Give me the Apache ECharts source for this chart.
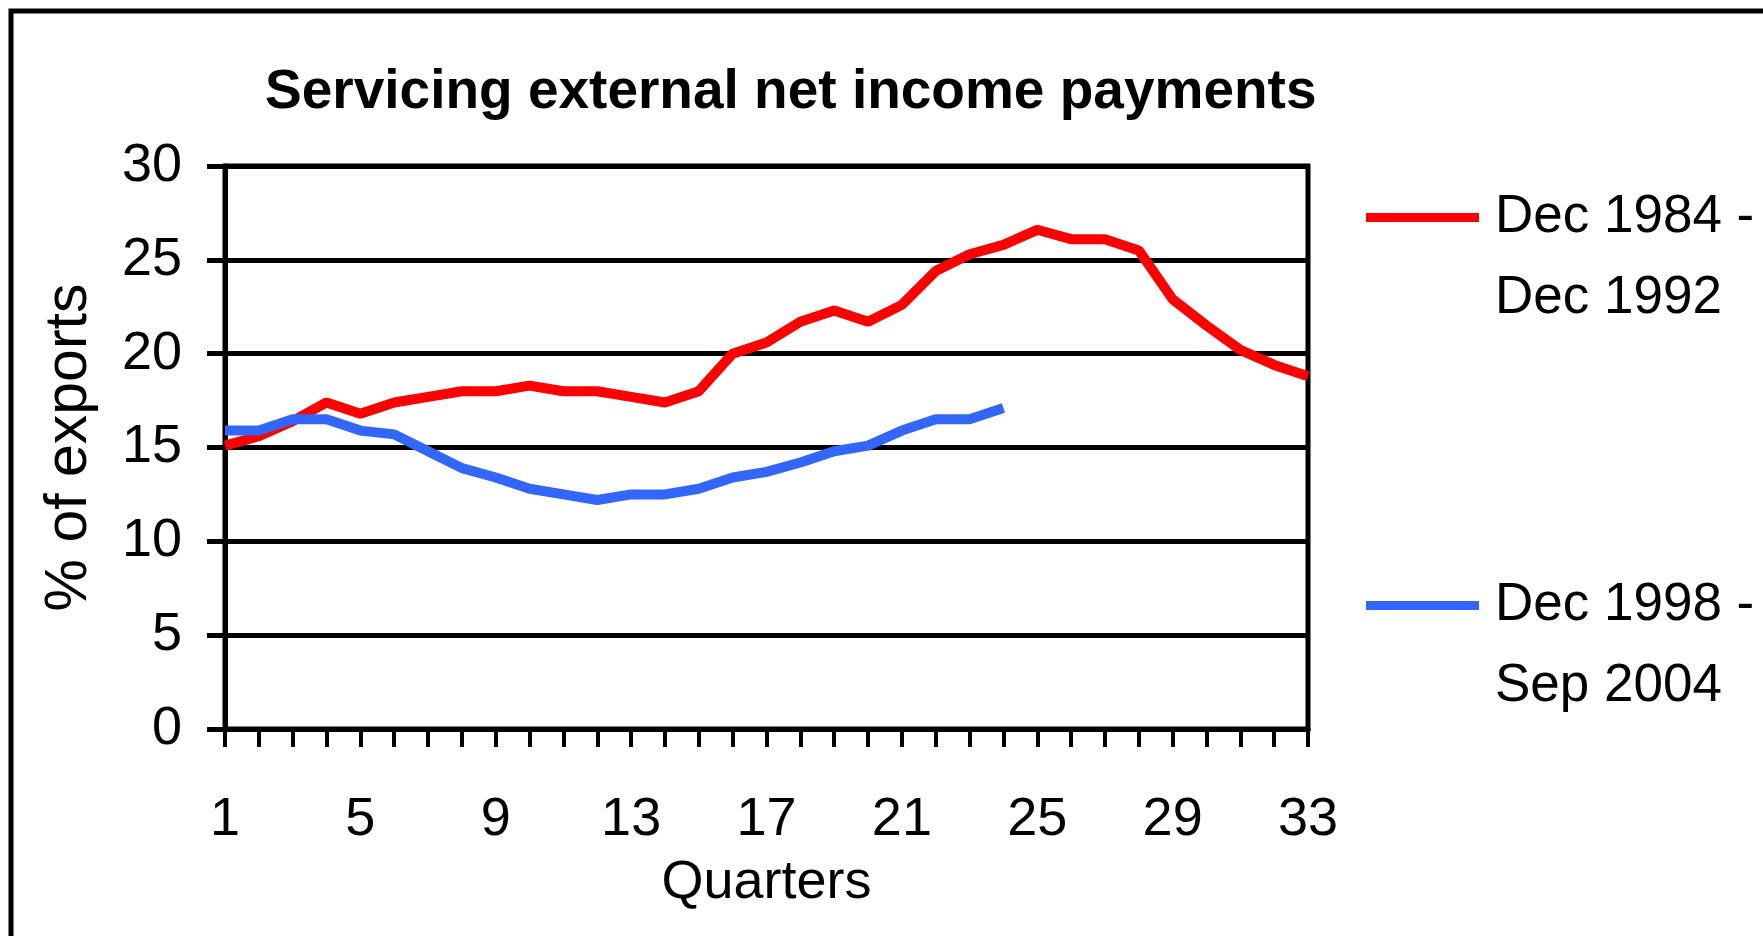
<!DOCTYPE html>
<html>
<head>
<meta charset="utf-8">
<script src="https://cdn.jsdelivr.net/npm/echarts@6/dist/echarts.min.js"></script>
<style>
html,body{margin:0;padding:0;background:#fff;}
#chart{width:1763px;height:936px;}
</style>
</head>
<body>
<div id="chart"></div>
<script>
const quarters = Array.from({length: 33}, (_, i) => String(i + 1));
const series1Name = 'Dec 1984 -\nDec 1992';
const series2Name = 'Dec 1998 -\nSep 2004';
const red = [15.1, 15.6, 16.4, 17.4, 16.8, 17.4, 17.7, 18.0, 18.0, 18.3, 18.0, 18.0, 17.7, 17.4, 18.0,
             20.0, 20.6, 21.7, 22.3, 21.7, 22.6, 24.4, 25.3, 25.8, 26.6, 26.1, 26.1, 25.5, 22.9, 21.5,
             20.2, 19.4, 18.8];
const blue = [15.9, 15.9, 16.5, 16.5, 15.9, 15.7, 14.8, 13.9, 13.4, 12.8, 12.5, 12.2, 12.5, 12.5, 12.8,
              13.4, 13.7, 14.2, 14.8, 15.1, 15.9, 16.5, 16.5, 17.1];

const FONT = "'Liberation Sans', Arial, sans-serif";
const LBL = 54;
const chart = echarts.init(document.getElementById('chart'), null, {renderer: 'canvas'});
chart.setOption({
  backgroundColor: '#ffffff',
  animation: false,
  title: {
    text: 'Servicing external net income payments',
    left: 265, top: 65, padding: 0,
    textStyle: {fontFamily: FONT, fontSize: 55, fontWeight: 'bold', color: '#000'}
  },
  graphic: [{
    type: 'rect', silent: true,
    shape: {x: 11, y: 11, width: 2000, height: 2000},
    style: {fill: 'none', stroke: '#000', lineWidth: 5}
  }],
  legend: {
    orient: 'vertical',
    left: 1366, top: 96, padding: 0,
    itemWidth: 113, itemHeight: 9, itemGap: 145,
    icon: 'rect',
    formatter: name => '\n' + name,
    textStyle: {fontFamily: FONT, fontSize: 53, color: '#000', lineHeight: 81, padding: [0, 0, 0, 11]},
    data: [series1Name, series2Name]
  },
  grid: {
    left: 225, right: 455, top: 166, bottom: 207,
    show: true, borderColor: '#000', borderWidth: 5, backgroundColor: 'transparent'
  },
  xAxis: {
    type: 'category', data: quarters, boundaryGap: false,
    name: 'Quarters', nameLocation: 'middle', nameGap: 127,
    nameTextStyle: {fontFamily: FONT, fontSize: LBL, color: '#000'},
    axisLine: {lineStyle: {color: '#000', width: 5}},
    axisTick: {show: true, interval: 0, length: 18, lineStyle: {color: '#000', width: 4}},
    axisLabel: {interval: 3, margin: 64, fontFamily: FONT, fontSize: LBL, color: '#000'},
    splitLine: {show: false}
  },
  yAxis: {
    type: 'value', min: 0, max: 30, interval: 5,
    name: '% of exports', nameLocation: 'middle', nameGap: 126, nameRotate: 90,
    nameTextStyle: {fontFamily: FONT, fontSize: 59, color: '#000'},
    axisLine: {show: true, lineStyle: {color: '#000', width: 5}},
    axisTick: {show: true, length: 18, lineStyle: {color: '#000', width: 5}},
    axisLabel: {margin: 43, fontFamily: FONT, fontSize: LBL, color: '#000'},
    splitLine: {show: true, lineStyle: {color: '#000', width: 5}}
  },
  series: [{
    name: series1Name, type: 'line', data: red, symbol: 'none',
    lineStyle: {color: '#FF0000', width: 10}, itemStyle: {color: '#FF0000'}
  }, {
    name: series2Name, type: 'line', data: blue, symbol: 'none',
    lineStyle: {color: '#3366FF', width: 10}, itemStyle: {color: '#3366FF'}
  }]
});
</script>
</body>
</html>
